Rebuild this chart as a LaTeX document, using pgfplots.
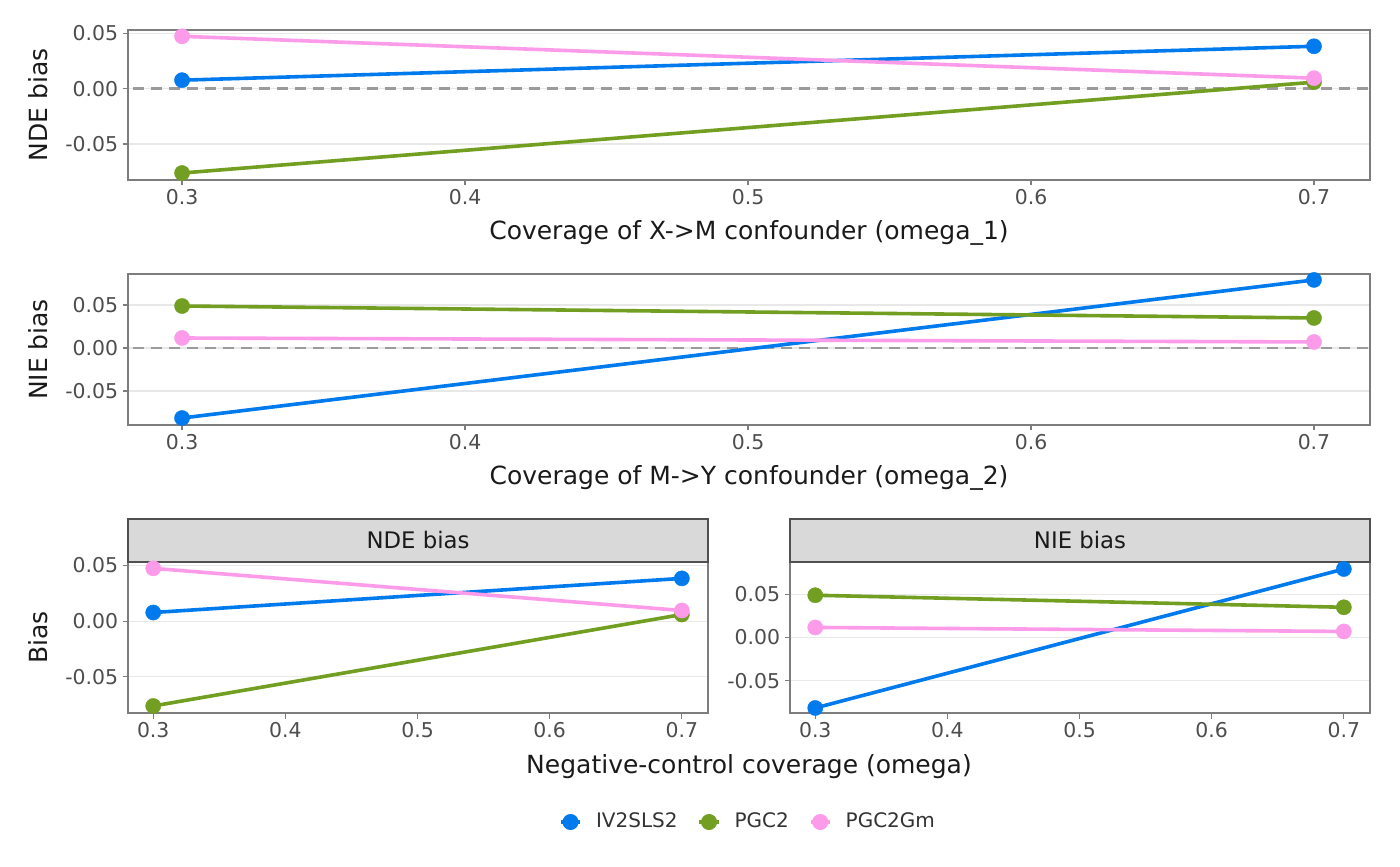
\documentclass[border=0pt]{standalone}
\usepackage{fontspec}
\setmainfont{DejaVu Sans}
\usepackage{pgfplots}
\usepackage{pgfplotstable}
\pgfplotsset{compat=1.18}
\definecolor{cblue}{RGB}{0,122,236}
\definecolor{cgreen}{RGB}{114,158,34}
\definecolor{cpink}{RGB}{252,155,234}
\definecolor{bordergray}{RGB}{125,125,125}
\definecolor{gridgray}{RGB}{232,232,232}
\definecolor{ticktext}{RGB}{77,77,77}
\definecolor{titletext}{RGB}{26,26,26}
\definecolor{striptext}{RGB}{26,26,26}
\definecolor{stripfill}{RGB}{217,217,217}
\definecolor{stripborder}{RGB}{80,80,80}
\definecolor{zerogray}{RGB}{155,155,155}

\pgfplotstableread{
x    iv      pgc     pgcgm
0.3  0.0077  -0.0761 0.0473
0.7  0.0383  0.0059  0.0095
}\ndetab
\pgfplotstableread{
x    iv      pgc     pgcgm
0.3  -0.0814 0.0488  0.0116
0.7  0.0791  0.0349  0.0070
}\nietab

\pgfplotsset{
 ggbase/.style={
  scale only axis,
  anchor=south west,
  xmin=0.2809, xmax=0.7198,
  xtick={0.3,0.4,0.5,0.6,0.7},
  xticklabels={0.3,0.4,0.5,0.6,0.7},
  ytick={-0.05,0,0.05},
  yticklabels={-0.05,0.00,0.05},
  scaled y ticks=false, scaled x ticks=false,
  xtick pos=bottom, ytick pos=left,
  tick align=outside,
  major tick length=2.75pt,
  tick style={bordergray, line width=0.6pt},
  axis line style={bordergray, line width=0.8pt},
  ymajorgrids,
  major grid style={gridgray, line width=0.6pt},
  tick label style={font=\fontsize{10.2}{12}\selectfont, text=ticktext},
  xticklabel style={inner sep=1.5pt},
  yticklabel style={inner sep=2pt},
  label style={font=\fontsize{12.5}{15}\selectfont, text=titletext},
  xlabel style={anchor=center},
  ylabel style={anchor=center},
 },
 ggline/.style={line width=1.8pt, no markers},
 ggpts/.style={only marks, mark=*, mark size=3.8pt, mark options={line width=0.2pt}},
 zeroline/.style={zerogray, line width=1.3pt, dash pattern=on 5.5pt off 3.5pt, forget plot},
}

\begin{document}
\begin{tikzpicture}
\useasboundingbox (0,0) rectangle (700pt,433pt);

% ---- top panel: NDE vs omega_1
\begin{axis}[ggbase, at={(64pt,343pt)}, width=621pt, height=75pt,
  ymin=-0.0824, ymax=0.0530,
  xlabel={Coverage of X->M confounder (omega\_1)},
  ylabel={NDE bias},
  xlabel style={at={(axis description cs:0.5,-0.353)}},
  ylabel style={at={(axis description cs:-0.0725,0.5)}},
]
\addplot[zeroline] coordinates {(0.2,0) (0.8,0)};
\addplot[ggline, cblue] table[x=x, y=iv] {\ndetab};
\addplot[ggline, cgreen] table[x=x, y=pgc] {\ndetab};
\addplot[ggline, cpink] table[x=x, y=pgcgm] {\ndetab};
\addplot[ggpts, cblue] table[x=x, y=iv] {\ndetab};
\addplot[ggpts, cgreen] table[x=x, y=pgc] {\ndetab};
\addplot[ggpts, cpink] table[x=x, y=pgcgm] {\ndetab};
\end{axis}

% ---- middle panel: NIE vs omega_2
\begin{axis}[ggbase, at={(64pt,220.5pt)}, width=621pt, height=75.5pt,
  ymin=-0.0895, ymax=0.0860,
  xlabel={Coverage of M->Y confounder (omega\_2)},
  ylabel={NIE bias},
  xlabel style={at={(axis description cs:0.5,-0.351)}},
  ylabel style={at={(axis description cs:-0.0725,0.5)}},
]
\addplot[zeroline] coordinates {(0.2,0) (0.8,0)};
\addplot[ggline, cblue] table[x=x, y=iv] {\nietab};
\addplot[ggline, cgreen] table[x=x, y=pgc] {\nietab};
\addplot[ggline, cpink] table[x=x, y=pgcgm] {\nietab};
\addplot[ggpts, cblue] table[x=x, y=iv] {\nietab};
\addplot[ggpts, cgreen] table[x=x, y=pgc] {\nietab};
\addplot[ggpts, cpink] table[x=x, y=pgcgm] {\nietab};
\end{axis}

% ---- bottom left facet: NDE bias
\begin{axis}[ggbase, at={(64pt,76.5pt)}, width=290pt, height=75.5pt,
  clip=false,
  ymin=-0.0824, ymax=0.0530,
  xlabel={Negative-control coverage (omega)},
  ylabel={Bias},
  xlabel style={at={(axis description cs:1.0707,-0.358)}},
  ylabel style={at={(axis description cs:-0.1552,0.5)}},
  legend columns=3,
  legend style={at={(axis description cs:1.0707,-0.722)}, anchor=center,
    draw=none, fill=none, font=\fontsize{10}{12}\selectfont, text=black!80,
    /tikz/every odd column/.append style={column sep=5pt},
    /tikz/every even column/.append style={column sep=8pt}},
  legend image code/.code={
    \draw[line width=1.8pt,#1] (-0.17cm,0cm) -- (0.17cm,0cm);
    \fill[#1] (0cm,0cm) circle (3.8pt);},
]
\addplot[ggline, cblue, forget plot] table[x=x, y=iv] {\ndetab};
\addplot[ggline, cgreen, forget plot] table[x=x, y=pgc] {\ndetab};
\addplot[ggline, cpink, forget plot] table[x=x, y=pgcgm] {\ndetab};
\addplot[ggpts, cblue, forget plot] table[x=x, y=iv] {\ndetab};
\addplot[ggpts, cgreen, forget plot] table[x=x, y=pgc] {\ndetab};
\addplot[ggpts, cpink, forget plot] table[x=x, y=pgcgm] {\ndetab};
\addlegendimage{cblue}\addlegendentry{IV2SLS2}
\addlegendimage{cgreen}\addlegendentry{PGC2}
\addlegendimage{cpink}\addlegendentry{PGC2Gm}
\draw[fill=stripfill, draw=stripborder, line width=0.6pt] (rel axis cs:0,1) rectangle (rel axis cs:1,1.2848);
\draw[stripborder, line width=1.1pt] (rel axis cs:0,1) -- (rel axis cs:1,1);
\node[font=\fontsize{11.4}{13}\selectfont, text=striptext] at (rel axis cs:0.5,1.1424) {NDE bias};
\end{axis}

% ---- bottom right facet: NIE bias
\begin{axis}[ggbase, at={(395pt,76.5pt)}, width=290pt, height=75.5pt,
  clip=false,
  ymin=-0.0872, ymax=0.0872,
]
\addplot[ggline, cblue] table[x=x, y=iv] {\nietab};
\addplot[ggline, cgreen] table[x=x, y=pgc] {\nietab};
\addplot[ggline, cpink] table[x=x, y=pgcgm] {\nietab};
\addplot[ggpts, cblue] table[x=x, y=iv] {\nietab};
\addplot[ggpts, cgreen] table[x=x, y=pgc] {\nietab};
\addplot[ggpts, cpink] table[x=x, y=pgcgm] {\nietab};
\draw[fill=stripfill, draw=stripborder, line width=0.6pt] (rel axis cs:0,1) rectangle (rel axis cs:1,1.2848);
\draw[stripborder, line width=1.1pt] (rel axis cs:0,1) -- (rel axis cs:1,1);
\node[font=\fontsize{11.4}{13}\selectfont, text=striptext] at (rel axis cs:0.5,1.1424) {NIE bias};
\end{axis}
\end{tikzpicture}
\end{document}
